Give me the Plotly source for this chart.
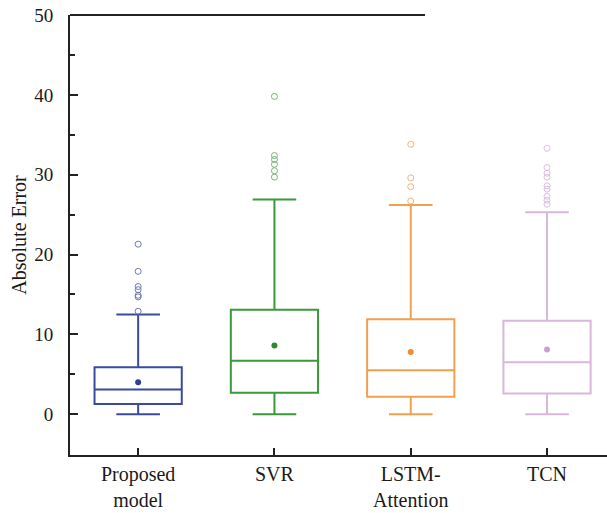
import plotly.graph_objects as go

categories = ["Proposed<br>model", "SVR", "LSTM-<br>Attention", "TCN"]
q1 = [1.3, 2.7, 2.2, 2.6]
median = [3.1, 6.7, 5.5, 6.5]
q3 = [5.9, 13.1, 11.9, 11.7]
lower = [0.0, 0.0, 0.0, 0.0]
upper = [12.5, 26.9, 26.2, 25.3]
means = [4.0, 8.6, 7.8, 8.1]
outliers = [
    [21.3, 17.9, 16.0, 15.6, 14.9, 14.7, 12.9],
    [39.8, 32.4, 31.9, 31.3, 30.5, 29.7],
    [33.8, 29.6, 28.5, 26.7],
    [33.3, 30.9, 30.2, 29.7, 28.6, 28.2, 27.3, 26.8, 26.3],
]
line_colors = ["#3b4a9c", "#3a9a3a", "#f2a04e", "#d9b6dc"]
mean_colors = ["#2f3f92", "#2f8a2f", "#f08a34", "#c9a0cf"]
out_colors = ["#7078b8", "#72b870", "#f0b47a", "#dcc0e2"]

fig = go.Figure()
for i, c in enumerate(categories):
    fig.add_trace(go.Box(
        x=[c], q1=[q1[i]], median=[median[i]], q3=[q3[i]],
        lowerfence=[lower[i]], upperfence=[upper[i]],
        boxpoints=False, width=0.64, whiskerwidth=0.5,
        line=dict(color=line_colors[i], width=2),
        fillcolor="rgba(0,0,0,0)", showlegend=False, hoverinfo="skip",
    ))
    fig.add_trace(go.Scatter(
        x=[c] * len(outliers[i]), y=outliers[i], mode="markers",
        marker=dict(symbol="circle-open", size=6, color=out_colors[i], line=dict(width=1)),
        showlegend=False,
    ))
    fig.add_trace(go.Scatter(
        x=[c], y=[means[i]], mode="markers",
        marker=dict(symbol="circle", size=6, color=mean_colors[i]),
        showlegend=False,
    ))

font = "Liberation Serif"
fig.update_layout(
    width=607, height=513,
    margin=dict(l=70, r=0, t=15, b=58),
    plot_bgcolor="white", paper_bgcolor="white",
    boxmode="overlay",
    font=dict(family=font, size=19, color="#1a1a1a"),
    xaxis=dict(
        type="category", categoryorder="array", categoryarray=categories,
        range=[-0.5, 3.44], showline=True, linecolor="#222", linewidth=2,
        ticks="inside", ticklen=7, tickwidth=1.5, tickcolor="#222",
        showgrid=False, zeroline=False, ticklabelstandoff=0,
        tickfont=dict(family=font, size=20, color="#1a1a1a"),
    ),
    yaxis=dict(
        range=[-5.1, 50], showline=True, linecolor="#222", linewidth=2,
        tickvals=[0, 10, 20, 30, 40, 50],
        ticks="inside", ticklen=8, tickwidth=1.5, tickcolor="#222",
        minor=dict(tickvals=[5, 15, 25, 35, 45], ticks="inside", ticklen=5, tickwidth=1.5, tickcolor="#222"),
        showgrid=False, zeroline=False, ticklabelstandoff=11,
        tickfont=dict(family=font, size=19, color="#1a1a1a"),
        title=dict(text="Absolute Error", font=dict(family=font, size=20, color="#1a1a1a"), standoff=2),
    ),
    shapes=[dict(type="line", xref="paper", yref="paper", x0=0, x1=0.661, y0=1, y1=1,
                 line=dict(color="#222", width=2))],
)
fig.write_html("out.html")
